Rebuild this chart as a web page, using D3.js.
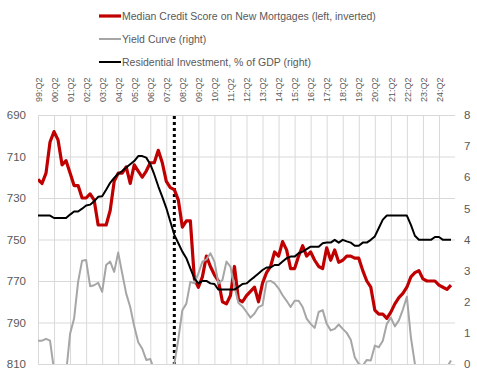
<!DOCTYPE html>
<html>
<head>
<meta charset="utf-8">
<script src="https://cdn.jsdelivr.net/npm/d3@7"></script>
<style>
  body { margin: 0; background: #fff; }
  svg { display: block; font-family: "Liberation Sans", Arial, sans-serif; }
  .grid line { stroke: #d9d9d9; stroke-width: 1px; }
  .grid .domain { display: none; }
  .tick text { fill: #595959; }
</style>
</head>
<body>
<svg width="477" height="375"></svg>
<script>
"use strict";

// 분기 라벨: 99:Q2 ~ 25:Q2
const quarters = [];
for (let y = 1999, q = 2; quarters.length < 105; ) {
  quarters.push(`${String(y % 100).padStart(2, "0")}:Q${q}`);
  q++;
  if (q > 4) { q = 1; y++; }
}
const tickQuarters = quarters.filter((d, i) => i % 4 === 0 && i <= 100);

// 시리즈 값
const creditScore = [
  721, 723, 718, 703, 698, 702, 714, 712, 718, 724, 724, 730, 730, 728, 731, 743,
  743, 743, 736, 722, 718, 718, 715, 723, 714, 717, 720, 717, 713, 713, 707, 713,
  722, 725, 726, 731, 744, 741, 741, 769, 773, 768, 758, 763, 767, 770, 780, 781,
  777, 763, 779, 780, 777, 775, 773, 780, 771, 766, 763, 756, 758, 751, 755, 764,
  764, 758, 753, 758, 756, 760, 763, 764, 754, 760, 755, 761, 760, 758, 758, 759,
  759, 765, 770, 773, 784, 786, 786, 788, 785, 781, 778, 776, 773, 768, 766, 765,
  769, 770, 770, 770, 772, 773, 774, 772
];
const yieldCurve = [
  0.75, 0.75, 0.81, 0.75, -0.2, -0.5, -0.4, -0.3, 0.97, 1.46, 2.64, 3.32, 3.34, 2.5, 2.53, 2.61,
  2.32, 3.18, 3.29, 2.96, 3.58, 2.91, 2.26, 1.83, 1.21, 0.7, 0.49, 0.13, 0.16, -0.2, -0.4, -0.6,
  -0.5, -0.3, 0.0, 0.8, 1.73, 1.94, 2.64, 2.59, 2.91, 3.29, 3.36, 3.56, 3.29, 2.59, 2.7, 3.29,
  3.13, 2.48, 1.96, 1.85, 1.67, 1.49, 1.62, 1.83, 1.89, 2.64, 2.67, 2.59, 2.43, 2.21, 2.03, 1.83,
  2.03, 2.03, 1.83, 1.46, 1.29, 1.16, 1.67, 1.73, 1.29, 1.08, 1.13, 1.27, 1.13, 1.0, 0.78, 0.22,
  0.0, -0.05, 0.13, 0.11, 0.59, 0.54, 0.75, 1.29, 1.49, 1.21, 1.4, 1.75, 2.16, 0.86, 0.0, -0.3,
  -0.5, -0.6, -0.4, -0.5, -0.4, -0.3, -0.1, 0.11
];
const resInvest = [
  4.77, 4.77, 4.77, 4.77, 4.69, 4.69, 4.69, 4.69, 4.8, 4.9, 4.9, 4.99, 5.09, 5.12, 5.23, 5.37,
  5.39, 5.6, 5.82, 5.98, 6.11, 6.2, 6.31, 6.42, 6.52, 6.68, 6.68, 6.63, 6.42, 6.09, 5.71, 5.37,
  5.01, 4.58, 4.15, 3.88, 3.61, 3.4, 3.07, 2.75, 2.59, 2.67, 2.67, 2.59, 2.57, 2.39, 2.39, 2.39,
  2.39, 2.39, 2.48, 2.57, 2.59, 2.7, 2.8, 2.91, 3.02, 3.1, 3.1, 3.18, 3.18, 3.29, 3.4, 3.45,
  3.45, 3.56, 3.61, 3.69, 3.77, 3.77, 3.77, 3.88, 3.9, 3.9, 3.99, 3.9, 3.99, 3.94, 3.9, 3.8,
  3.8, 3.9, 3.9, 3.99, 4.1, 4.37, 4.64, 4.77, 4.77, 4.77, 4.77, 4.77, 4.77, 4.47, 4.12, 3.99,
  3.99, 3.99, 3.99, 4.08, 4.08, 3.99, 3.99, 3.99
];
const recessionStart = "07:Q4";

const leftTicks = [690, 710, 730, 750, 770, 790, 810];
const rightTicks = [0, 1, 2, 3, 4, 5, 6, 7, 8];

const series = [
  { name: "Median Credit Score on New Mortgages (left, inverted)", values: creditScore, axis: "left", color: "#c00000", width: 3.2 },
  { name: "Yield Curve (right)", values: yieldCurve, axis: "right", color: "#a6a6a6", width: 2 },
  { name: "Residential Investment, % of GDP (right)", values: resInvest, axis: "right", color: "#000000", width: 2 }
];

const plot = { left: 38, right: 455, top: 115, bottom: 364 };
const svg = d3.select("svg");

const x = d3.scalePoint().domain(quarters).range([plot.left, plot.right]);
const yLeft = d3.scaleLinear().domain([690, 810]).range([plot.top, plot.bottom]); // 뒤집힌 축
const yRight = d3.scaleLinear().domain([0, 8]).range([plot.bottom, plot.top]);

// 가로 그리드 + 왼쪽 축
svg.append("g")
  .attr("class", "grid")
  .attr("transform", `translate(${plot.left},0)`)
  .call(d3.axisLeft(yLeft).tickValues(leftTicks).tickSize(-(plot.right - plot.left)).tickPadding(12))
  .call((g) => g.selectAll("text").style("font-size", "11.5px"));

// 세로 그리드 + 위쪽 분기 라벨 (세로로 회전)
svg.append("g")
  .attr("class", "grid")
  .attr("transform", `translate(0,${plot.top})`)
  .call(d3.axisTop(x).tickValues(tickQuarters).tickSize(-(plot.bottom - plot.top)))
  .call((g) => g.selectAll("text")
    .attr("transform", "rotate(-90)")
    .attr("x", 13)
    .attr("y", 0)
    .attr("dy", "0.35em")
    .style("text-anchor", "start")
    .style("font-size", "9px"));

// 오른쪽 축 (선 없음)
svg.append("g")
  .attr("class", "grid")
  .attr("transform", `translate(${plot.right},0)`)
  .call(d3.axisRight(yRight).tickValues(rightTicks).tickSize(0).tickPadding(9))
  .call((g) => g.selectAll("text").style("font-size", "11.5px"));

svg.append("clipPath").attr("id", "clip")
  .append("rect")
  .attr("x", plot.left).attr("y", plot.top)
  .attr("width", plot.right - plot.left).attr("height", plot.bottom - plot.top);

// 경기침체 시작 점선
svg.append("line")
  .attr("x1", x(recessionStart)).attr("x2", x(recessionStart))
  .attr("y1", plot.top + 1).attr("y2", plot.bottom)
  .style("stroke", "#000")
  .style("stroke-width", 3)
  .style("stroke-dasharray", "3,3");

const lines = svg.append("g").attr("clip-path", "url(#clip)");
series.forEach((s) => {
  const yScale = s.axis === "left" ? yLeft : yRight;
  const line = d3.line()
    .x((d, i) => x(quarters[i]))
    .y((d) => yScale(d));
  lines.append("path")
    .datum(s.values)
    .attr("d", line)
    .style("fill", "none")
    .style("stroke", s.color)
    .style("stroke-width", s.width)
    .style("stroke-linejoin", "round");
});

// 범례
const legend = svg.append("g")
  .selectAll("g")
  .data(series)
  .enter()
  .append("g")
  .attr("transform", (d, i) => `translate(99,${16 + i * 23})`);

legend.append("line")
  .attr("x1", 0).attr("x2", 22)
  .style("stroke", (d) => d.color)
  .style("stroke-width", (d) => d.width);

legend.append("text")
  .attr("x", 23)
  .attr("dy", "0.35em")
  .text((d) => d.name)
  .style("fill", "#595959")
  .style("font-size", "10.5px");
</script>
</body>
</html>
